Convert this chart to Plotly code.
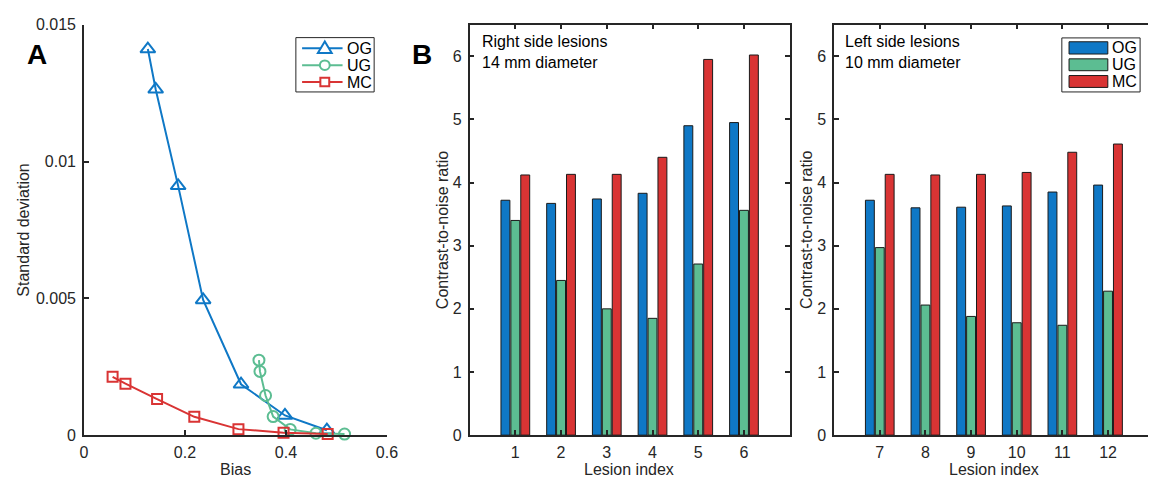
import plotly.graph_objects as go

# ---------------- data ----------------
og_bias = [0.1265, 0.142, 0.1865, 0.236, 0.311, 0.398, 0.481]
og_sd = [0.01411, 0.01264, 0.00911, 0.00494, 0.00186, 0.00072, 0.00018]
ug_bias = [0.3465, 0.3485, 0.3596, 0.3746, 0.4084, 0.4593, 0.516]
ug_sd = [0.00274, 0.00233, 0.00145, 0.00068, 0.00021, 0.00007, 0.00004]
mc_bias = [0.0567, 0.0822, 0.1448, 0.2185, 0.3059, 0.3952, 0.4826]
mc_sd = [0.00213, 0.00188, 0.00132, 0.00067, 0.00022, 0.00009, 0.00004]

lesions_right = [1, 2, 3, 4, 5, 6]
og_right = [3.72, 3.67, 3.74, 3.83, 4.90, 4.95]
ug_right = [3.40, 2.45, 2.00, 1.85, 2.71, 3.56]
mc_right = [4.12, 4.13, 4.13, 4.40, 5.95, 6.02]

lesions_left = [7, 8, 9, 10, 11, 12]
og_left = [3.72, 3.60, 3.61, 3.63, 3.85, 3.96]
ug_left = [2.97, 2.06, 1.88, 1.78, 1.74, 2.28]
mc_left = [4.13, 4.12, 4.13, 4.16, 4.48, 4.61]

series_names = ["OG", "UG", "MC"]
colors = ["#0F78C6", "#5CBD92", "#D93434"]

bias_ticks = [0, 0.2, 0.4, 0.6]
bias_ticktext = ["0", "0.2", "0.4", "0.6"]
sd_ticks = [0, 0.005, 0.01, 0.015]
sd_ticktext = ["0", "0.005", "0.01", "0.015"]
cnr_ticks = [0, 1, 2, 3, 4, 5, 6]

# ---------------- layout helpers ----------------
W, H = 1159, 484
FONT = "Liberation Sans, Arial, Helvetica, sans-serif"
AX = "#262626"
FS = 16


def px_x(p):
    return p / W


def px_y(p):
    return 1 - p / H


fig = go.Figure()

# Panel A
markers = ["triangle-up-open", "circle-open", "square-open"]
msizes = [13, 11, 10]
for name, col, sym, ms, xs, ys in zip(series_names, colors, markers, msizes,
                                      [og_bias, ug_bias, mc_bias],
                                      [og_sd, ug_sd, mc_sd]):
    fig.add_trace(go.Scatter(
        x=xs, y=ys, name=name, mode="lines+markers",
        line=dict(color=col, width=2),
        marker=dict(symbol=sym, size=ms, color=col, line=dict(width=2, color=col)),
        xaxis="x", yaxis="y", showlegend=False, cliponaxis=False,
    ))

# Panel B bars
for name, col, yr, yl in zip(series_names, colors,
                             [og_right, ug_right, mc_right],
                             [og_left, ug_left, mc_left]):
    fig.add_trace(go.Bar(x=lesions_right, y=yr, name=name, marker_color=col,
                         marker_line=dict(color="#1a1a1a", width=1),
                         xaxis="x2", yaxis="y2", showlegend=False))
    fig.add_trace(go.Bar(x=lesions_left, y=yl, name=name, marker_color=col,
                         marker_line=dict(color="#1a1a1a", width=1),
                         xaxis="x3", yaxis="y3", showlegend=False))

common_axis = dict(showline=True, linecolor=AX, linewidth=1.5, ticks="inside",
                   ticklen=5, tickwidth=1.5, tickcolor=AX, showgrid=False,
                   zeroline=False, tickfont=dict(size=FS, color=AX, family=FONT))
xcommon = dict(common_axis, ticklabelstandoff=2)
ycommon = dict(common_axis, ticklabelstandoff=3)

yb0, yt0 = px_y(442.7), px_y(17.3)

fig.update_layout(
    width=W, height=H,
    margin=dict(l=0, r=0, t=0, b=0),
    paper_bgcolor="white", plot_bgcolor="white",
    font=dict(family=FONT, color=AX, size=FS),
    barmode="group", bargap=0.35, bargroupgap=0.1,
    showlegend=False,
    xaxis=dict(xcommon, domain=[px_x(81), px_x(388)], range=[0, 0.6],
               tickvals=bias_ticks, ticktext=bias_ticktext, anchor="y"),
    yaxis=dict(ycommon, domain=[yb0, yt0], range=[0, 0.015],
               tickvals=sd_ticks, ticktext=sd_ticktext, anchor="x"),
    xaxis2=dict(xcommon, domain=[px_x(471.7), px_x(796)], range=[0, 7],
                tickvals=lesions_right, mirror="ticks", anchor="y2"),
    yaxis2=dict(ycommon, domain=[yb0, yt0], range=[0, 6.5],
                tickvals=cnr_ticks, mirror="ticks", anchor="x2"),
    xaxis3=dict(xcommon, domain=[px_x(841), 1.0], range=[6, 6 + (1159 - 841) / 46.25],
                tickvals=lesions_left, mirror="ticks", anchor="y3"),
    yaxis3=dict(ycommon, domain=[yb0, yt0], range=[0, 6.5],
                tickvals=cnr_ticks, anchor="x3"),
)


def text(x, y, s, size=FS, color=AX, xanchor="center", yanchor="middle", angle=0, align="center"):
    fig.add_annotation(x=px_x(x), y=px_y(y), xref="paper", yref="paper",
                       xanchor=xanchor, yanchor=yanchor, text=s, showarrow=False,
                       textangle=angle, align=align,
                       font=dict(size=size, color=color, family=FONT))


# Axis titles
text(234.5, 478, "Bias")
text(20, 230, "Standard deviation", angle=-90)
text(633.5, 478, "Lesion index")
text(445, 230, "Contrast-to-noise ratio", angle=-90)
text(1002.5, 478, "Lesion index")
text(813.5, 230, "Contrast-to-noise ratio", angle=-90)

# Panel letters and text labels
text(33, 48, "<b>A</b>", size=28, color="black")
text(423, 48, "<b>B</b>", size=28, color="black")
text(482, 24, "Right side lesions<br>14 mm diameter", color="black",
     xanchor="left", yanchor="top", align="left")
text(849.5, 24, "Left side lesions<br>10 mm diameter", color="black",
     xanchor="left", yanchor="top", align="left")

# Manual legend for panel A (line + marker samples)
fig.add_shape(type="rect", xref="paper", yref="paper",
              x0=px_x(295.7), x1=px_x(375), y0=px_y(87), y1=px_y(30.7),
              line=dict(color=AX, width=1), fillcolor="white")
rows_a = [41.7, 59.3, 76.7]
for yc, name, col, sym in zip(rows_a, series_names, colors, ["tri", "cir", "sq"]):
    fig.add_shape(type="line", xref="paper", yref="paper",
                  x0=px_x(302), x1=px_x(343), y0=px_y(yc), y1=px_y(yc),
                  line=dict(color=col, width=2))
    mx = 325
    if sym == "tri":
        path = "M {},{} L {},{} L {},{} Z".format(
            px_x(mx), px_y(yc - 7), px_x(mx - 7), px_y(yc + 5), px_x(mx + 7), px_y(yc + 5))
        fig.add_shape(type="path", xref="paper", yref="paper", path=path,
                      line=dict(color=col, width=2), fillcolor="white")
    elif sym == "cir":
        fig.add_shape(type="circle", xref="paper", yref="paper",
                      x0=px_x(mx - 5), x1=px_x(mx + 5), y0=px_y(yc + 5), y1=px_y(yc - 5),
                      line=dict(color=col, width=2), fillcolor="white")
    else:
        fig.add_shape(type="rect", xref="paper", yref="paper",
                      x0=px_x(mx - 4.5), x1=px_x(mx + 4.5), y0=px_y(yc + 4.5), y1=px_y(yc - 4.5),
                      line=dict(color=col, width=2), fillcolor="white")
    text(345.5, yc, name, color="black", xanchor="left")

# Manual legend for panel B (wide patches)
fig.add_shape(type="rect", xref="paper", yref="paper",
              x0=px_x(1071.7), x1=px_x(1151), y0=px_y(87), y1=px_y(31),
              line=dict(color=AX, width=1), fillcolor="white")
rows = [(35, 47.7), (52.7, 65), (70, 82.3)]
for (top, bot), name, col in zip(rows, series_names, colors):
    fig.add_shape(type="rect", xref="paper", yref="paper",
                  x0=px_x(1079), x1=px_x(1118.3), y0=px_y(bot), y1=px_y(top),
                  line=dict(color="#1a1a1a", width=1), fillcolor=col)
    text(1120.5, (top + bot) / 2, name, color="black", xanchor="left")

fig.write_html("out.html")
